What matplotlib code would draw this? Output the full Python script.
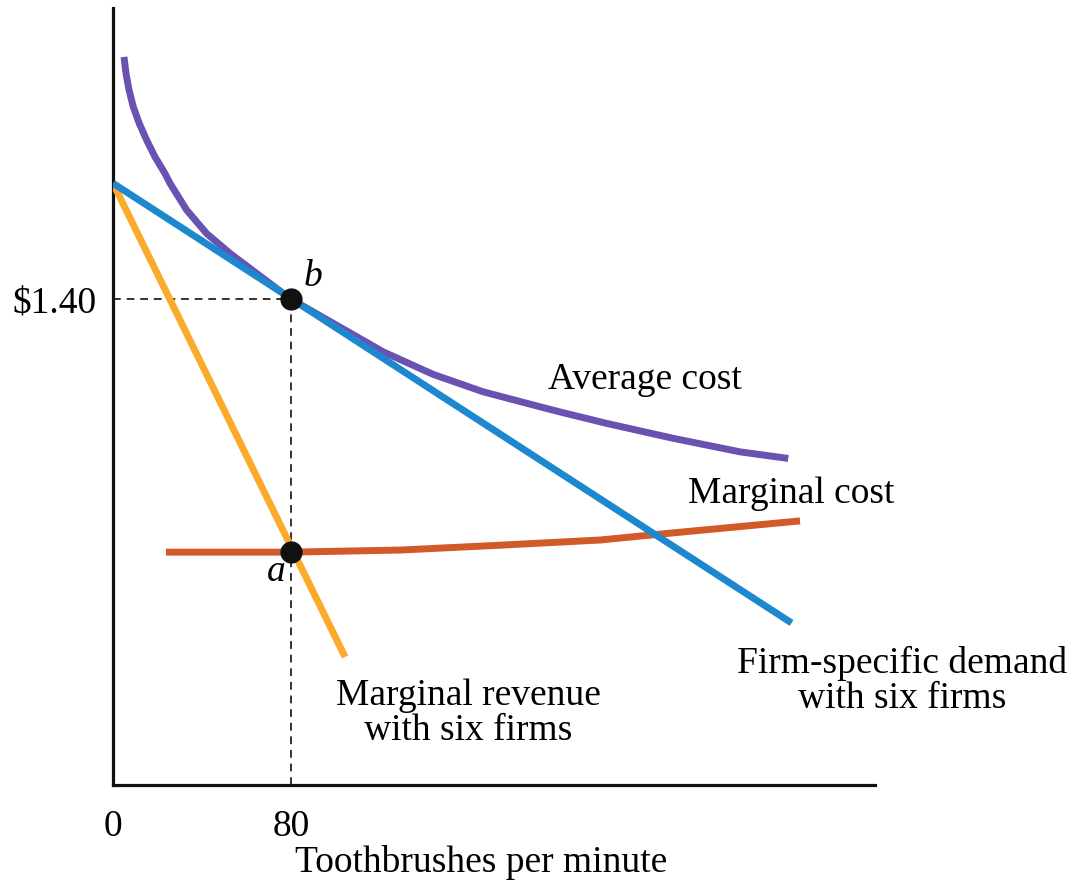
import matplotlib
matplotlib.use("Agg")
import matplotlib.pyplot as plt

plt.rcParams['font.family'] = ['Liberation Serif', 'DejaVu Serif']

# Data
ac_x = [4.94, 5.84, 7.19, 9.12, 11.82, 15.15, 18.88, 23.37, 25.6, 33.1, 42.1, 52.6, 64.6, 80.0,
        106.5, 121.5, 144.0, 166.4, 188.9, 200.9, 221.9, 251.8, 281.8, 303.5]
ac_y = [2.098, 2.051, 2.003, 1.954, 1.906, 1.858, 1.810, 1.762, 1.734, 1.657, 1.589, 1.532, 1.474, 1.400,
        1.303, 1.248, 1.183, 1.133, 1.095, 1.075, 1.042, 0.999, 0.960, 0.941]

demand_x = [0.0, 305.0]
demand_y = [1.734, 0.467]

mr_x = [0.0, 104.3]
mr_y = [1.734, 0.369]

mc_x = [23.8, 80.0, 129.0, 174.0, 219.0, 246.0, 279.0, 308.8]
mc_y = [0.671, 0.671, 0.677, 0.691, 0.706, 0.723, 0.743, 0.761]

q_star = 80
p_star = 1.40
mc_star = 0.671

xtick_vals = [0, 80]
xtick_labels = ["0", "80"]
ytick_vals = [1.40]
ytick_labels = ["$1.40"]

purple = "#6A52B2"
blue = "#1E88CF"
orange = "#FBAA2C"
red = "#D05A28"

fig = plt.figure(figsize=(10.87, 8.85), dpi=100)
ax = fig.add_axes([113/1087, 100/885, 762/1087, 777/885])
ax.set_xlim(0, 342.5)
ax.set_ylim(0, 2.239)

for s in ["top", "right"]:
    ax.spines[s].set_visible(False)
for s in ["left", "bottom"]:
    ax.spines[s].set_linewidth(2.3)
    ax.spines[s].set_color("#111111")

fs = 27
ax.set_xticks(xtick_vals)
ax.set_xticklabels(xtick_labels, fontsize=fs)
ax.set_yticks(ytick_vals)
ax.set_yticklabels(ytick_labels, fontsize=fs)
ax.tick_params(axis="x", length=0, pad=18)
ax.tick_params(axis="y", length=0, pad=12)

# dashed guides
ax.plot([0, q_star], [p_star, p_star], ls=(0, (4, 3)), color="#333333", lw=1.4, zorder=1)
ax.plot([q_star, q_star], [0, p_star], ls=(0, (4, 3)), color="#333333", lw=1.4, zorder=1)

lw = 5
ax.plot(mc_x, mc_y, color=red, lw=lw, solid_capstyle="butt", solid_joinstyle="round", zorder=2)
ax.plot(mr_x, mr_y, color=orange, lw=lw, solid_capstyle="butt", zorder=3)
ax.plot(ac_x, ac_y, color=purple, lw=lw, solid_capstyle="butt", solid_joinstyle="round", zorder=3)
ax.plot(demand_x, demand_y, color=blue, lw=lw, solid_capstyle="butt", zorder=4)

ax.plot([q_star], [p_star], "o", color="#111111", ms=15, zorder=6)
ax.plot([q_star], [mc_star], "o", color="#111111", ms=15, zorder=6)

ax.text(90, 1.466, "b", fontsize=fs, style="italic", ha="center", va="center")
ax.text(73.3, 0.614, "a", fontsize=fs, style="italic", ha="center", va="center")

ax.text(239, 1.167, "Average cost", fontsize=fs, ha="center", va="center")
ax.text(305, 0.838, "Marginal cost", fontsize=fs, ha="center", va="center")
ax.text(354.6, 0.30, "Firm-specific demand\nwith six firms", fontsize=fs,
        ha="center", va="center", linespacing=1.05, clip_on=False)
ax.text(159.6, 0.207, "Marginal revenue\nwith six firms", fontsize=fs,
        ha="center", va="center", linespacing=1.05, clip_on=False)

fig.text(481/1087, 1 - 862/885, "Toothbrushes per minute", fontsize=fs, ha="center", va="center")

fig.savefig("out.png", dpi=100)
